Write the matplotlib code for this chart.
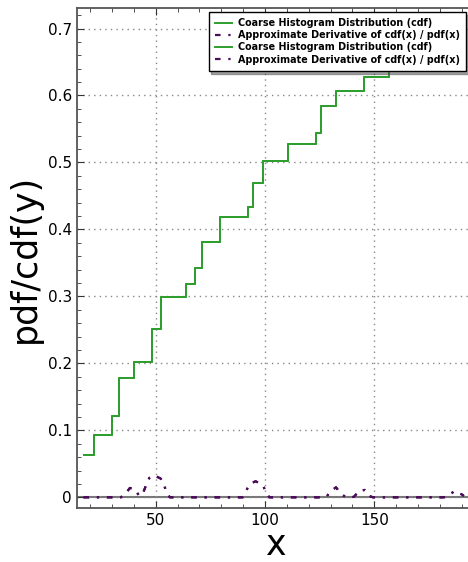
import matplotlib
matplotlib.use("Agg")
import matplotlib.pyplot as plt

# step cdf: edges (left x of each level) and levels
cdf_x = [17.2, 21.8, 29.9, 33.1, 39.9, 48.5, 52.6, 63.9, 68.0, 71.0, 79.6,
         92.1, 94.6, 99.2, 110.4, 123.2, 125.5, 132.5, 145.2, 156.6, 170.0, 191.0]
cdf_y = [0.0636, 0.093, 0.122, 0.1785, 0.2024, 0.2517, 0.2985, 0.319, 0.342,
         0.382, 0.418, 0.433, 0.4687, 0.5015, 0.528, 0.544, 0.5836, 0.607,
         0.627, 0.665, 0.69, 0.69]

# approximate derivative
pdf_x = [17.0, 34.0, 36.0, 38.2, 40.5, 42.5, 44.3, 45.6, 47.1, 49.2, 52.3,
         53.9, 55.0, 56.5, 89.8, 91.3, 93.1, 95.7, 98.9, 100.5, 102.0, 126.5,
         128.2, 130.0, 132.5, 134.6, 137.0, 139.5, 140.8, 143.1, 145.7, 147.7,
         149.5, 181.5, 183.4, 186.5, 190.0, 191.0]
pdf_y = [0.0, 0.0, 0.0045, 0.014, 0.012, 0.002, 0.007, 0.018, 0.029, 0.033,
         0.028, 0.018, 0.007, 0.0, 0.0, 0.0094, 0.02, 0.024, 0.019, 0.008, 0.0,
         0.0, 0.001, 0.009, 0.015, 0.006, 0.0, 0.0, 0.001, 0.010, 0.011, 0.002,
         0.0, 0.0, 0.001, 0.009, 0.0045, 0.002]

fig = plt.figure(figsize=(4.68, 5.62), dpi=100)
ax = fig.add_axes([0.164, 0.0955, 0.851, 0.8895])

green = '#2e9e2e'
purple = '#4b0a5a'
for _ in range(2):
    ax.step(cdf_x, cdf_y, where='post', color=green, lw=1.4,
            label='Coarse Histogram Distribution (cdf)')
    ax.plot(pdf_x, pdf_y, color=purple, lw=1.6, dashes=(2.5, 3.5, 1, 3.5),
            label='Approximate Derivative of cdf(x) / pdf(x)')

ax.axhline(0, color='#777777', lw=1.5, zorder=0)
ax.set_xlim(13.9, 196.1)
ax.set_ylim(-0.0164, 0.73)
ax.set_xticks([50, 100, 150])
ax.set_xticks(range(20, 191, 10), minor=True)
ax.set_yticks([0, 0.1, 0.2, 0.3, 0.4, 0.5, 0.6, 0.7])
ax.set_yticklabels(['0', '0.1', '0.2', '0.3', '0.4', '0.5', '0.6', '0.7'])
ax.set_yticks([i * 0.02 for i in range(0, 37)], minor=True)
ax.tick_params(which='both', direction='in', top=True, right=True,
               labelsize=11, colors='#333333', labelcolor='black')
ax.tick_params(which='major', length=5)
ax.tick_params(which='minor', length=3)
ax.grid(True, which='major', linestyle=(0, (1, 3)), color='#888888', lw=1)
for s in ax.spines.values():
    s.set_color('#555555')
    s.set_linewidth(1.3)

ax.set_xlabel('x', fontsize=25, labelpad=0)
ax.set_ylabel('pdf/cdf(y)', fontsize=25, labelpad=4)

leg = ax.legend(loc='upper right', bbox_to_anchor=(466 / 468, 1 - 12 / 562),
                bbox_transform=fig.transFigure,
                prop={'weight': 'bold', 'size': 6.9},
                fancybox=False, shadow=True, framealpha=1, edgecolor='black',
                borderaxespad=0, handlelength=1.8, handletextpad=0.6,
                labelspacing=0.22, borderpad=0.65)
leg.get_frame().set_linewidth(1.0)

fig.savefig('out.png', dpi=100)
